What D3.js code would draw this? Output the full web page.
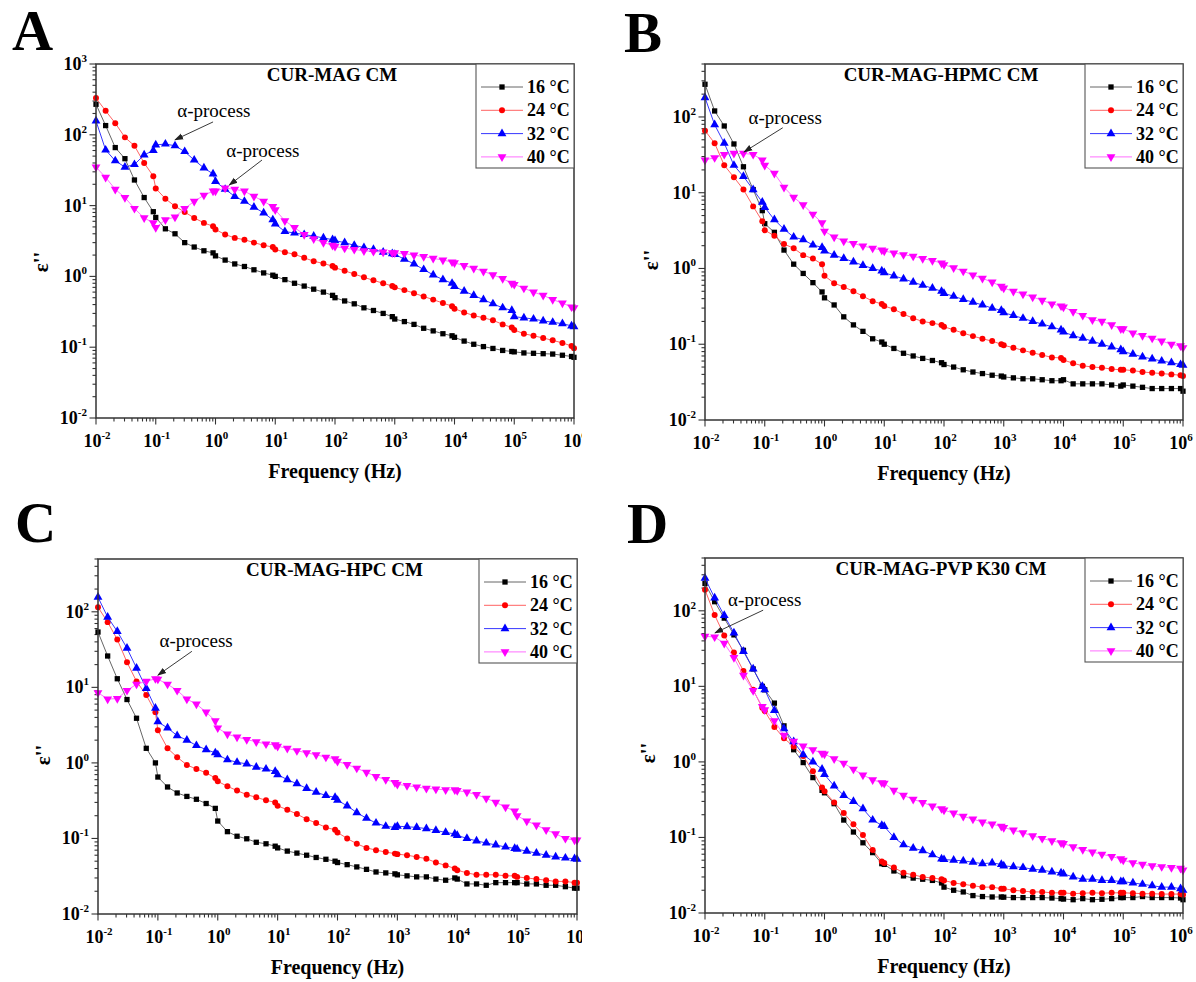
<!DOCTYPE html>
<html><head><meta charset="utf-8">
<script src="https://cdn.jsdelivr.net/npm/d3@7"></script>
<style>
body{margin:0;background:#fff}
svg{display:block}
text{font-family:"Liberation Serif","Times New Roman",serif}
</style>
</head><body>
<svg id="c" width="1196" height="982"></svg>
<script>
// ---------------- DATA ----------------
const freq = [0.01,0.0145,0.021,0.0305,0.044,0.064,0.091,
  0.1,0.145,0.21,0.305,0.44,0.64,0.91,
  1,1.45,2.1,3.05,4.4,6.4,9.1,
  10,14.5,21,30.5,44,64,91,
  100,145,210,305,440,640,910,
  1000,1450,2100,3050,4400,6400,9100,
  10000,14500,21000,30500,44000,64000,91000,
  100000,145000,210000,305000,440000,640000,910000,
  1000000];

const tempLabels = ["16 \u00B0C","24 \u00B0C","32 \u00B0C","40 \u00B0C"];
const xTickExps = [-2,-1,0,1,2,3,4,5,6];
const yTickExpsA = [-2,-1,0,1,2,3];
const yTickExpsBCD = [-2,-1,0,1,2];

const A16 = [270,135,66,46,23,13,8.2, 6.8,4.7,4.0,3.0,2.6,2.3,2.15, 1.95,1.7,1.5,1.38,1.24,1.12,1.04, 1.0,0.9,0.8,0.73,0.66,0.6,0.54, 0.5,0.45,0.41,0.36,0.33,0.30,0.27, 0.25,0.23,0.21,0.185,0.17,0.155,0.145, 0.138,0.122,0.11,0.102,0.096,0.09,0.087, 0.086,0.083,0.082,0.081,0.08,0.077,0.074, 0.072];
const A24 = [330,218,146,92,70,40,26, 17.5,12.5,9.8,8.1,6.7,5.7,5.1, 4.6,3.9,3.5,3.3,3.0,2.75,2.6, 2.4,2.2,2.05,1.83,1.64,1.52,1.4, 1.33,1.2,1.08,0.97,0.88,0.8,0.73, 0.7,0.64,0.58,0.52,0.47,0.42,0.38, 0.35,0.31,0.28,0.26,0.24,0.21,0.19, 0.175,0.155,0.145,0.135,0.125,0.115,0.104, 0.097];
const A32 = [157,61,43,35,38,52,60, 72,74,70,58,44,34,28, 22,17,13.5,11.5,9.5,7.9,6.3, 5.5,4.3,4.1,3.9,3.7,3.5,3.3, 3.2,3.0,2.75,2.55,2.4,2.2,2.1, 2.05,1.75,1.5,1.25,1.05,0.9,0.8, 0.72,0.62,0.54,0.47,0.41,0.36,0.33, 0.27,0.26,0.25,0.235,0.225,0.215,0.2, 0.195];
const A40 = [35,25,17,13,9.1,6.7,5.7, 4.9,6.3,6.9,9.1,11.5,14,16, 16,17.7,17,16,13.5,11.5,9.7, 8.7,6.1,4.9,3.9,3.4,3.0,2.75, 2.65,2.5,2.4,2.3,2.25,2.2,2.15, 2.15,2.1,2.0,1.9,1.8,1.7,1.6, 1.55,1.42,1.3,1.18,1.05,0.93,0.8, 0.77,0.68,0.6,0.54,0.47,0.42,0.37, 0.36];

const B16 = [270,120,76,44,22,11,5.8, 3.9,3.0,1.75,1.14,0.86,0.65,0.49, 0.41,0.33,0.23,0.18,0.148,0.118,0.107, 0.1,0.088,0.076,0.07,0.065,0.061,0.057, 0.054,0.05,0.046,0.043,0.041,0.039,0.038, 0.037,0.036,0.035,0.035,0.034,0.033,0.033, 0.034,0.03,0.03,0.03,0.03,0.029,0.028, 0.029,0.028,0.027,0.026,0.026,0.026,0.026, 0.024];
const B24 = [66,45,23,16,11,6.6,4.2, 3.2,2.7,2.1,1.85,1.5,1.35,1.14, 0.8,0.64,0.57,0.5,0.43,0.37,0.34, 0.32,0.29,0.25,0.22,0.2,0.19,0.18, 0.17,0.155,0.14,0.128,0.118,0.11,0.1, 0.097,0.09,0.083,0.077,0.072,0.067,0.066, 0.062,0.056,0.052,0.05,0.049,0.047,0.046, 0.046,0.045,0.043,0.042,0.041,0.04,0.039, 0.038];
const B32 = [180,79,45,23,16.4,11,7.5, 6.4,4.4,3.3,2.6,2.4,2.04,1.9, 1.7,1.5,1.36,1.22,1.1,1.0,0.93, 0.88,0.8,0.73,0.66,0.6,0.55,0.5, 0.47,0.43,0.39,0.36,0.33,0.3,0.28, 0.26,0.24,0.22,0.2,0.185,0.17,0.155, 0.145,0.13,0.12,0.11,0.1,0.092,0.085, 0.08,0.074,0.068,0.064,0.06,0.057,0.054, 0.053];
const B40 = [27,29,32,33,33,32,27, 23,18,11.8,8.7,6.9,5.2,4.0, 3.1,2.6,2.3,2.14,1.98,1.85,1.75, 1.7,1.6,1.52,1.45,1.35,1.27,1.18, 1.12,1.02,0.92,0.82,0.74,0.66,0.58, 0.55,0.5,0.46,0.42,0.38,0.34,0.32, 0.31,0.27,0.24,0.21,0.2,0.18,0.16, 0.16,0.14,0.13,0.12,0.11,0.1,0.095, 0.09];

const C16 = [54,26,13,6.9,3.9,1.56,1.0, 0.65,0.48,0.4,0.36,0.33,0.29,0.25, 0.17,0.123,0.107,0.099,0.089,0.085,0.079, 0.075,0.068,0.064,0.06,0.056,0.053,0.05, 0.048,0.045,0.042,0.039,0.036,0.035,0.034, 0.033,0.032,0.031,0.031,0.029,0.028,0.03, 0.029,0.025,0.025,0.024,0.026,0.026,0.026, 0.026,0.025,0.025,0.024,0.024,0.023,0.022, 0.022];
const C24 = [115,73,43,21.5,12,7.9,4.7, 2.7,1.56,1.19,0.94,0.83,0.74,0.63, 0.57,0.49,0.43,0.38,0.35,0.32,0.3, 0.27,0.24,0.21,0.18,0.16,0.14,0.13, 0.12,0.1,0.085,0.075,0.07,0.066,0.063, 0.062,0.06,0.057,0.054,0.048,0.044,0.04, 0.038,0.035,0.033,0.033,0.033,0.032,0.032, 0.031,0.03,0.029,0.028,0.027,0.027,0.026, 0.026];
const C32 = [156,85,55,33,18,9.7,5.3, 3.5,2.9,2.3,2.0,1.7,1.5,1.36, 1.28,1.1,1.02,0.97,0.88,0.83,0.77, 0.7,0.6,0.53,0.46,0.41,0.37,0.35, 0.32,0.27,0.22,0.185,0.16,0.145,0.14, 0.145,0.143,0.14,0.135,0.128,0.12,0.115, 0.11,0.1,0.093,0.087,0.082,0.077,0.074, 0.072,0.068,0.064,0.06,0.057,0.055,0.054, 0.053];
const C40 = [8.5,7.0,7.1,9.1,11,12,13, 12.8,11,9.1,7.0,6.0,4.7,3.6, 2.9,2.4,2.2,2.04,1.9,1.78,1.73, 1.66,1.56,1.45,1.36,1.28,1.19,1.13, 1.05,0.95,0.85,0.75,0.66,0.6,0.55, 0.52,0.5,0.48,0.46,0.45,0.44,0.44, 0.43,0.41,0.38,0.34,0.3,0.26,0.23, 0.2,0.17,0.15,0.13,0.115,0.1,0.095, 0.095];

const D16 = [230,132,80,48,30,17,10, 9,6,3.0,1.45,0.98,0.62,0.42, 0.39,0.28,0.17,0.118,0.085,0.063,0.045, 0.044,0.036,0.031,0.029,0.028,0.027,0.025, 0.022,0.02,0.019,0.017,0.0165,0.0163,0.0163, 0.0162,0.016,0.016,0.016,0.016,0.0158,0.0155, 0.0153,0.015,0.0155,0.015,0.0152,0.0155,0.016, 0.016,0.016,0.0165,0.016,0.016,0.016,0.0158, 0.015];
const D24 = [190,88,47,28,16,9,5.2, 4.7,2.9,2.05,1.6,1.2,0.75,0.46, 0.41,0.29,0.21,0.15,0.108,0.068,0.048, 0.046,0.04,0.034,0.032,0.03,0.029,0.028, 0.027,0.025,0.024,0.023,0.022,0.022,0.021, 0.021,0.02,0.0195,0.019,0.019,0.0185,0.0185, 0.0185,0.018,0.0183,0.0185,0.0183,0.0185,0.0185, 0.0185,0.0183,0.018,0.018,0.0178,0.0178,0.0178, 0.0175];
const D32 = [270,148,87,51,29,17,10, 9,4.8,2.75,1.85,1.25,1.0,0.8, 0.68,0.48,0.36,0.3,0.24,0.17,0.145, 0.14,0.1,0.08,0.072,0.067,0.059,0.052, 0.051,0.05,0.049,0.047,0.045,0.046,0.044, 0.042,0.041,0.04,0.038,0.037,0.035,0.034, 0.033,0.03,0.028,0.028,0.027,0.027,0.026, 0.026,0.025,0.024,0.023,0.022,0.022,0.021, 0.02];
const D40 = [46,45,37,24,14,8.8,5.4, 4.9,3.5,2.25,1.88,1.62,1.45,1.3, 1.27,1.1,0.96,0.8,0.67,0.58,0.53, 0.52,0.42,0.36,0.32,0.29,0.26,0.24, 0.23,0.21,0.19,0.175,0.16,0.15,0.14, 0.135,0.125,0.115,0.105,0.097,0.09,0.085, 0.083,0.075,0.069,0.064,0.06,0.056,0.052, 0.05,0.046,0.044,0.042,0.041,0.04,0.039, 0.037];

// α-process annotations in data space: text position, arrow tail, arrow tip
const annA = [{t:[0.94,178], s:[0.91,152], e:[0.21,85]}, {t:[6.2,48.5], s:[6,44], e:[1.7,19.5]}];
const annB = [{t:[0.22,81], s:[0.2,72], e:[0.045,34.5]}];
const annC = [{t:[0.435,34], s:[0.37,30], e:[0.1,14.5]}];
const annD = [{t:[0.1,116], s:[0.094,102], e:[0.0147,51]}];

// ---------------- STYLE / LAYOUT ----------------
const colors = ["#000000","#ff0000","#0000ff","#ff00ff"];
const lineColors = ["#555555","#ff5050","#2020ff","#ff60ff"];
const panels = [
  {label:"A", title:"CUR-MAG CM", series:[A16,A24,A32,A40], ymax:1000, yExps:yTickExpsA, ann:annA,
   box:{x0:96,x1:574,y0:64,y1:418}, clip:582, lab:[12,50], ylab:[41,262]},
  {label:"B", title:"CUR-MAG-HPMC CM", series:[B16,B24,B32,B40], ymax:500, yExps:yTickExpsBCD, ann:annB,
   box:{x0:705,x1:1183,y0:64,y1:420}, clip:null, lab:[624,52], ylab:[651,260]},
  {label:"C", title:"CUR-MAG-HPC CM", series:[C16,C24,C32,C40], ymax:500, yExps:yTickExpsBCD, ann:annC,
   box:{x0:98,x1:577,y0:559,y1:914}, clip:582, lab:[15,542], ylab:[43,755]},
  {label:"D", title:"CUR-MAG-PVP K30 CM", series:[D16,D24,D32,D40], ymax:500, yExps:yTickExpsBCD, ann:annD,
   box:{x0:705,x1:1183,y0:558,y1:913}, clip:null, lab:[627,543], ylab:[648,753]}
];

const svg = d3.select("#c");
const defs = svg.append("defs");
defs.append("marker").attr("id","arr").attr("viewBox","0 0 10 10").attr("refX",9).attr("refY",5)
  .attr("markerWidth",9).attr("markerHeight",9).attr("markerUnits","userSpaceOnUse").attr("orient","auto")
  .append("path").attr("d","M0,1.5 L10,5 L0,8.5 Z").attr("fill","#222");

const symTypes = [d3.symbolSquare, d3.symbolCircle, d3.symbolTriangle, d3.symbolTriangle];
const symSizes = [28, 28, 34, 34];
const symRot = [0,0,0,180];

function supLabel(sel, e){
  sel.append("tspan").text("10");
  sel.append("tspan").attr("font-size",11).attr("dy",-8).text(String(e));
}

panels.forEach((p,pi)=>{
  const b = p.box;
  let g = svg.append("g");
  if(p.clip){
    defs.append("clipPath").attr("id","clip"+pi).append("rect")
      .attr("x",0).attr("y",b.y0-80).attr("width",p.clip).attr("height",500);
    g.attr("clip-path","url(#clip"+pi+")");
  }
  const x = d3.scaleLog().domain([0.01,1e6]).range([b.x0,b.x1]);
  const y = d3.scaleLog().domain([0.01,p.ymax]).range([b.y1,b.y0]);

  // panel letter
  svg.append("text").attr("x",p.lab[0]).attr("y",p.lab[1]).attr("font-size",57).attr("font-weight","bold").text(p.label);

  // ticks X
  const xt = g.append("g").attr("stroke","#333").attr("stroke-width",1.1);
  for(let e=-2;e<6;e++){
    for(let m=2;m<=9;m++){
      const xv = x(m*Math.pow(10,e));
      xt.append("line").attr("x1",xv).attr("x2",xv).attr("y1",b.y1).attr("y2",b.y1+3.5);
    }
  }
  xTickExps.forEach(e=>{
    const xv = x(Math.pow(10,e));
    xt.append("line").attr("x1",xv).attr("x2",xv).attr("y1",b.y1).attr("y2",b.y1+6.5);
    const t = g.append("text").attr("x",xv + (e===6 && !p.clip ? -2 : 1)).attr("y",b.y1+29).attr("text-anchor","middle")
      .attr("font-size",18).attr("font-weight","bold");
    supLabel(t,e);
  });
  // Y ticks
  const yt = g.append("g").attr("stroke","#333").attr("stroke-width",1.1);
  const emax = Math.log10(p.ymax);
  for(let e=-2;e<Math.ceil(emax);e++){
    for(let m=2;m<=9;m++){
      const v = m*Math.pow(10,e);
      if(v>p.ymax*1.001) continue;
      const yv = y(v);
      yt.append("line").attr("x1",b.x0-3.5).attr("x2",b.x0).attr("y1",yv).attr("y2",yv);
    }
  }
  p.yExps.forEach(e=>{
    const yv = y(Math.pow(10,e));
    yt.append("line").attr("x1",b.x0-6.5).attr("x2",b.x0).attr("y1",yv).attr("y2",yv);
    const t = g.append("text").attr("x",b.x0-9).attr("y",yv+6).attr("text-anchor","end")
      .attr("font-size",18).attr("font-weight","bold");
    supLabel(t,e);
  });

  // series
  const line = d3.line().x((d,i)=>x(freq[i])).y(d=>y(d));
  p.series.forEach((s,si)=>{
    g.append("path").datum(s).attr("d",line).attr("fill","none")
      .attr("stroke",lineColors[si]).attr("stroke-width",0.9);
    const sym = d3.symbol().type(symTypes[si]).size(symSizes[si]);
    g.append("g").selectAll("path").data(s).join("path")
      .attr("d",sym)
      .attr("transform",(d,i)=>`translate(${x(freq[i])},${y(d)}) rotate(${symRot[si]})`)
      .attr("fill",colors[si]);
  });

  // frame
  g.append("rect").attr("x",b.x0).attr("y",b.y0).attr("width",b.x1-b.x0).attr("height",b.y1-b.y0)
    .attr("fill","none").attr("stroke","#333").attr("stroke-width",1.5);

  // title
  g.append("text").attr("x",(b.x0+b.x1)/2-3).attr("y",b.y0+17).attr("text-anchor","middle")
    .attr("font-size",19).attr("font-weight","bold").text(p.title);

  // legend
  const lx0 = b.x1-98, ly0 = b.y0, lh = 104;
  g.append("rect").attr("x",lx0).attr("y",ly0).attr("width",b.x1-lx0).attr("height",lh)
    .attr("fill","#fff").attr("stroke","#555").attr("stroke-width",1.1);
  tempLabels.forEach((lab,i)=>{
    const cy = ly0+23+i*23.3;
    g.append("line").attr("x1",lx0+5).attr("x2",lx0+47).attr("y1",cy).attr("y2",cy)
      .attr("stroke",lineColors[i]).attr("stroke-width",0.9);
    const sym = d3.symbol().type(symTypes[i]).size(symSizes[i]);
    g.append("path").attr("d",sym).attr("transform",`translate(${lx0+26},${cy}) rotate(${symRot[i]})`)
      .attr("fill",colors[i]);
    g.append("text").attr("x",lx0+51).attr("y",cy+6).attr("font-size",18).attr("font-weight","bold").text(lab);
  });

  // annotations
  p.ann.forEach(a=>{
    g.append("text").attr("x",x(a.t[0])).attr("y",y(a.t[1])).attr("text-anchor","middle")
      .attr("font-size",19).text("\u03B1-process");
    g.append("line").attr("x1",x(a.s[0])).attr("y1",y(a.s[1])).attr("x2",x(a.e[0])).attr("y2",y(a.e[1]))
      .attr("stroke","#222").attr("stroke-width",0.9).attr("marker-end","url(#arr)");
  });

  // axis labels
  g.append("text").attr("x",(b.x0+b.x1)/2).attr("y",b.y1+60).attr("text-anchor","middle")
    .attr("font-size",20).attr("font-weight","bold").text("Frequency (Hz)");
  g.append("text").attr("transform",`translate(${p.ylab[0]},${p.ylab[1]}) rotate(-90)`)
    .attr("text-anchor","middle").attr("dy","0.35em").attr("font-size",21).attr("font-weight","bold").text("\u03B5''");
});
</script>
</body></html>
